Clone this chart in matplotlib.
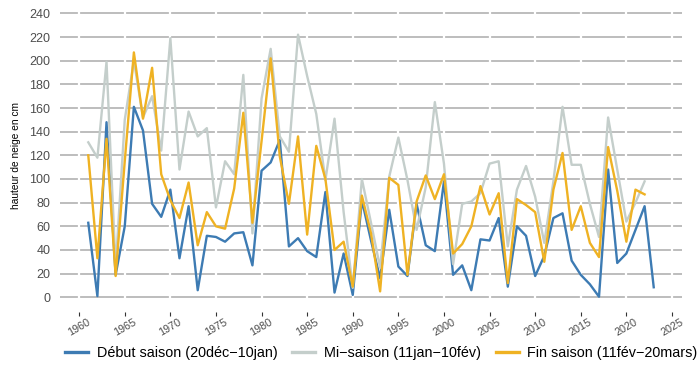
import numpy as np
import matplotlib
matplotlib.use("Agg")
import matplotlib.pyplot as plt

plt.rcParams['font.family'] = ['Liberation Sans', 'DejaVu Sans']

# hauteur de neige (cm) par période de la saison
years_debut = list(range(1961, 2024))
debut = [63, 1, 148, 19, 60, 161, 141, 79, 68, 91,
         33, 77, 6, 52, 51, 47, 54, 55, 27, 107,
         114, 133, 43, 50, 39, 34, 89, 4, 37, 2,
         82, 48, 16, 74, 26, 18, 79, 44, 39, 98,
         19, 27, 6, 49, 48, 67, 9, 60, 52, 18,
         35, 67, 71, 31, 19, 11, 0.5, 108, 29, 37,
         57, 77, 8.5]

years_mi = list(range(1961, 2023))
mi = [131, 118, 199, 25, 150, 200, 152, 170, 124, 219,
      108, 157, 136, 143, 76, 115, 104, 188, 54, 168,
      210, 136, 123, 222, 187, 155, 99, 151, 72, 8,
      100, 63, 25, 102, 135, 99, 57, 93, 165, 113,
      28, 79, 81, 88, 113, 115, 43, 91, 111, 85,
      46, 98, 161, 112, 112, 79, 51, 152, 108, 64,
      80, 98]

years_fin = list(range(1961, 2023))
fin = [120, 33, 134, 18, 115, 207, 151, 194, 104, 82,
       67, 97, 44, 72, 60, 58, 92, 156, 63, 132,
       202, 119, 79, 136, 53, 128, 100, 40, 47, 9,
       86, 54, 5, 101, 95, 19, 81, 103, 83, 104,
       37, 45, 60, 94, 70, 88, 12, 83, 78, 72,
       30, 91, 122, 57, 77, 46, 34, 127, 90, 47,
       91, 87]

labels = ['Début saison (20déc\u221210jan)',
          'Mi\u2212saison (11jan\u221210fév)',
          'Fin saison (11fév\u221220mars)']
colors = ['#3d7bb3', '#c4cecb', '#efb223']

x_ticks = list(range(1960, 2030, 5))
y_ticks = list(range(0, 260, 20))

fig = plt.figure(figsize=(7, 3.87), dpi=100)
ax = fig.add_axes([60 / 700, 1 - 311.5 / 387, 622 / 700, 311.5 / 387])

ax.set_xlim(1957.9, 2026.1)
ax.set_ylim(-12, 251.3)

# horizontal grid, broken by white vertical lines at the year ticks
for v in y_ticks:
    ax.axhline(v, color='#bdbdbd', lw=1.4, zorder=1)
for t in x_ticks:
    ax.axvline(t, color='white', lw=1.6, zorder=1.5)

ax.plot(years_debut, debut, color=colors[0], lw=1.7, label=labels[0], zorder=3)
ax.plot(years_mi, mi, color=colors[1], lw=1.7, label=labels[1], zorder=3)
ax.plot(years_fin, fin, color=colors[2], lw=1.7, label=labels[2], zorder=3)

for s in ax.spines.values():
    s.set_visible(False)

ax.set_xticks(x_ticks)
ax.set_xticklabels([str(t) for t in x_ticks], rotation=30, ha='center',
                   fontsize=7.8, color='#4d4d4d')
ax.set_yticks(y_ticks)
ax.set_yticklabels([str(v) for v in y_ticks], fontsize=9, color='#4d4d4d')
ax.tick_params(axis='x', length=3, width=0.8, color='#333333', pad=1)
ax.tick_params(axis='y', length=0, pad=7)

ax.set_ylabel('hauteur de neige en cm', fontsize=7.3, labelpad=6)

leg = fig.legend(loc='center', bbox_to_anchor=(0.545, 1 - 353 / 387), ncol=3,
                 frameon=False, fontsize=10.4, handlelength=1.6,
                 columnspacing=1.0, handletextpad=0.6)
for h in leg.get_lines():
    h.set_linewidth(2.4)

fig.savefig('out.png', dpi=100)
